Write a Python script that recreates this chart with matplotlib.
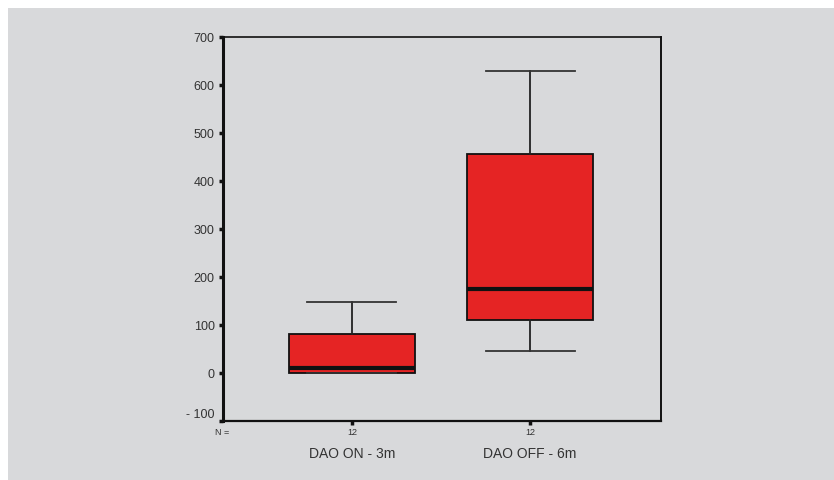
import matplotlib.pyplot as plt
from matplotlib.patches import Rectangle

plt.rcParams['font.family'] = ['Liberation Sans', 'DejaVu Sans']

# values
groups = ["DAO ON - 3m", "DAO OFF - 6m"]
counts = [12, 12]
whislo = [0, 45]
q1 = [0, 110]
med = [10, 175]
q3 = [81, 456]
whishi = [148, 630]
yticks = [-100, 0, 100, 200, 300, 400, 500, 600, 700]

stats = []
for i, name in enumerate(groups):
    stats.append({"label": name, "whislo": whislo[i], "q1": q1[i], "med": med[i],
                  "q3": q3[i], "whishi": whishi[i], "fliers": []})

bg = "#d8d9db"
txt = "#333333"

fig = plt.figure(figsize=(8.34, 4.8), dpi=100, facecolor="white")
fig.patches.append(Rectangle((8 / 834, 0), 1, 1 - 8 / 480, transform=fig.transFigure,
                             facecolor=bg, edgecolor="none", zorder=-10))
ax = fig.add_axes([0.2674, 0.1229, 0.5252, 0.80])
ax.set_facecolor(bg)

pos = [1, 2]
ax.bxp(stats, positions=pos, widths=0.71, capwidths=0.5, patch_artist=True,
       boxprops=dict(facecolor="#e52424", edgecolor="#111111", linewidth=1.3),
       medianprops=dict(color="#111111", linewidth=3),
       whiskerprops=dict(color="#222222", linewidth=1.3),
       capprops=dict(color="#333333", linewidth=1.3))

ax.set_xlim(0.2755, 2.736)
ax.set_ylim(-100, 700)
ax.set_yticks(yticks)
ax.set_yticklabels([f"- {abs(v)}" if v < 0 else str(v) for v in yticks])
ax.tick_params(axis="y", length=3, width=2.5, color="#111111", direction="out",
               labelsize=9, labelcolor=txt, pad=3)
ax.get_yticklabels()[0].set_va("bottom")
ax.set_xticks(pos)
ax.set_xticklabels([str(c) for c in counts])
ax.tick_params(axis="x", length=3, width=2.5, color="#111111", direction="out",
               labelsize=6.5, labelcolor=txt, pad=2)

for i, name in enumerate(groups):
    ax.text(pos[i], -0.068, name, transform=ax.get_xaxis_transform(), ha="center",
            va="top", fontsize=10, color=txt)
ax.text(-0.003, -0.017, "N =", transform=ax.transAxes, ha="center", va="top",
        fontsize=6.5, color=txt)

ax.spines["left"].set_linewidth(2.2)
ax.spines["bottom"].set_linewidth(1.6)
ax.spines["top"].set_linewidth(1.2)
ax.spines["right"].set_linewidth(1.4)
for s in ax.spines.values():
    s.set_color("#111111")

fig.savefig("out.png", dpi=100, facecolor=fig.get_facecolor())
